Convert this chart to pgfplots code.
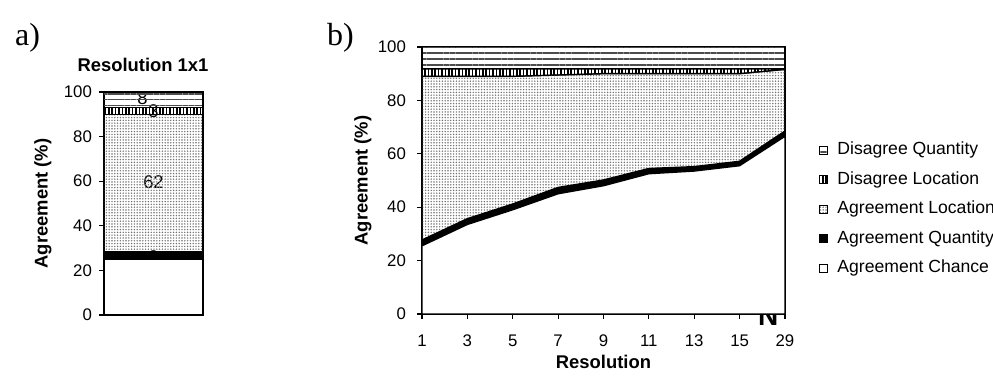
\documentclass[border=0pt]{standalone}
\usepackage{fontspec}
\setmainfont{Liberation Sans}
\newfontfamily\seriffont{Liberation Serif}
\usepackage{pgfplots}
\pgfplotsset{compat=1.18}
\usetikzlibrary{patterns.meta}

\pgfplotsset{
 common/.style={
  scale only axis,
  tick align=outside,
  tick pos=left,
  major tick length=2.5pt,
  ymin=0, ymax=100, ytick={0,20,...,100},
  /pgf/number format/assume math mode=true,
  tick label style={font=\fontsize{8.4}{9}\selectfont},
  label style={font=\bfseries\fontsize{9.2}{10}\selectfont},
  axis line style={line width=0.6pt},
  every tick/.style={black, line width=0.6pt},
  stack plots=y,
 },
 chance/.style={draw=black, line width=0.6pt, fill=white},
 aquant/.style={draw=black, line width=1.2pt, fill=black},
 aloc/.style={draw=black, line width=0.5pt, pattern={Dots[distance=1.4pt, radius=0.4pt]}, pattern color=black!55},
 dloc/.style={draw=black, line width=0.7pt, pattern={Lines[angle=90, distance=1.7pt, line width=0.8pt]}, pattern color=black},
 dquant/.style={draw=black, line width=0.5pt, pattern={Lines[angle=0, distance=2.9pt, line width=0.75pt]}, pattern color=black!70},
}

\begin{document}
\begin{tikzpicture}
\useasboundingbox (0,0) rectangle (496.5pt,189pt);

\node[font=\seriffont\fontsize{16}{18}\selectfont, anchor=west] at (4pt,170pt) {a)};
\node[font=\seriffont\fontsize{16}{18}\selectfont, anchor=west] at (160pt,170pt) {b)};

% panel a
\begin{axis}[common,
  at={(52pt,31.5pt)}, anchor=south west,
  width=49.5pt, height=111.5pt,
  xmin=0, xmax=1, xtick=\empty,
  ylabel={Agreement (\%)},
  ylabel style={at={(axis description cs:-0.616,0.5)}, anchor=center},
  title={Resolution 1x1},
  title style={at={(axis description cs:0.394,1.068)}, anchor=center, font=\bfseries\fontsize{9.2}{10}\selectfont},
]
\addplot[chance] coordinates {(0,25) (1,25)} \closedcycle;
\addplot[aquant] coordinates {(0,3) (1,3)} \closedcycle;
\addplot[aloc] coordinates {(0,62) (1,62)} \closedcycle;
\addplot[dloc] coordinates {(0,3) (1,3)} \closedcycle;
\addplot[dquant] coordinates {(0,8) (1,8)} \closedcycle;
\node[font=\fontsize{9.2}{10}\selectfont] at (axis cs:0.5,12.5) {25};
\node[font=\fontsize{9.2}{10}\selectfont] at (axis cs:0.5,26) {3};
\node[font=\fontsize{9.2}{10}\selectfont] at (axis cs:0.5,59.5) {62};
\node[font=\fontsize{9.2}{10}\selectfont] at (axis cs:0.5,91.3) {3};
\node[font=\fontsize{9.2}{10}\selectfont] at (axis cs:0.39,97.3) {8};
\end{axis}

% panel b
\begin{axis}[common,
  at={(211pt,32pt)}, anchor=south west,
  width=181.5pt, height=133.5pt,
  xmin=0, xmax=8, xtick={0,...,8},
  xticklabels={1,3,5,7,9,11,13,15,29},
  xticklabel style={yshift=-4.5pt},
  yticklabel style={xshift=-2pt},
  xlabel={Resolution},
  ylabel={Agreement (\%)},
  xlabel style={at={(axis description cs:0.5,-0.178)}, anchor=center},
  ylabel style={at={(axis description cs:-0.1625,0.5)}, anchor=center},
  clip mode=individual,
  reverse legend,
  legend cell align=left,
  legend image code/.code={\draw[#1, line width=0.4pt, draw=black] (0pt,-2pt) rectangle (4pt,2pt); \path (8.2pt,0pt);},
  legend style={at={(axis description cs:1,0.393)}, anchor=west, xshift=17pt,
    draw=none, fill=none, inner sep=0pt,
    font=\fontsize{8.8}{10}\selectfont, row sep=6.65pt,
    nodes={inner sep=0pt, text height=6.3pt, text depth=1.8pt}},
]
\addplot[chance] coordinates {(0,25.5) (1,33.5) (2,39) (3,45) (4,48) (5,52.5) (6,53.5) (7,55.5) (8,66.5)} \closedcycle;
\addlegendentry{Agreement Chance}
\addplot[aquant] coordinates {(0,2) (1,2) (2,2) (3,2.2) (4,2) (5,1.8) (6,1.5) (7,1.5) (8,1.8)} \closedcycle;
\addlegendentry{Agreement Quantity}
\addplot[aloc] coordinates {(0,61.5) (1,53.5) (2,48) (3,42.3) (4,40) (5,35.7) (6,35) (7,33) (8,23.3)} \closedcycle;
\addlegendentry{Agreement Location}
\addplot[dloc] coordinates {(0,2.8) (1,2.8) (2,2.8) (3,2.3) (4,1.8) (5,1.8) (6,1.8) (7,1.8) (8,0.2)} \closedcycle;
\addlegendentry{Disagree Location}
\addplot[dquant] coordinates {(0,8.2) (1,8.2) (2,8.2) (3,8.2) (4,8.2) (5,8.2) (6,8.2) (7,8.2) (8,8.2)} \closedcycle;
\addlegendentry{Disagree Quantity}
\node[font=\bfseries\fontsize{14}{15}\selectfont] at (axis cs:7.63,-0.6) {N};
\end{axis}
\end{tikzpicture}
\end{document}
